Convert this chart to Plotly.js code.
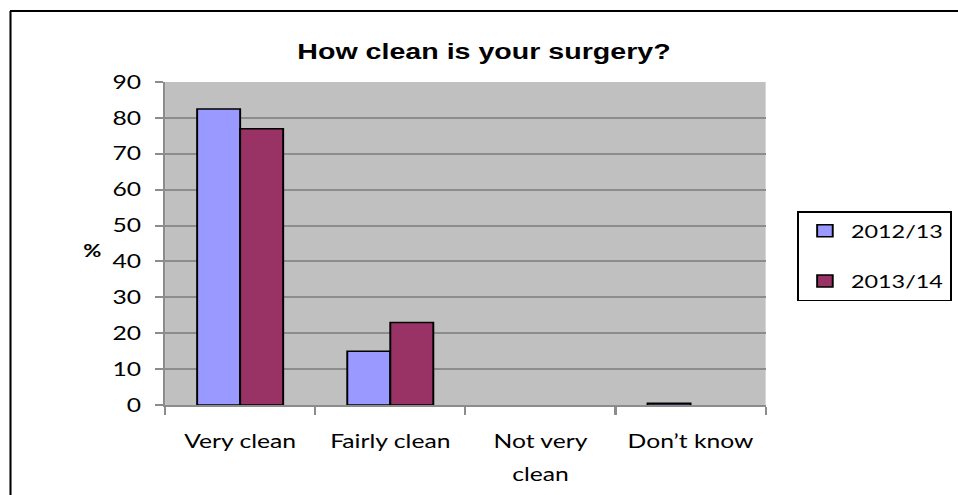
<!DOCTYPE html>
<html>
<head>
<meta charset="utf-8">
<script src="https://cdn.plot.ly/plotly-3.0.1.min.js"></script>
<style>
html,body{margin:0;padding:0;background:#fff;overflow:hidden;}
#wrap{width:958px;height:495px;overflow:hidden;}
#chart{width:737px;height:495px;transform:scaleX(1.29986);transform-origin:0 0;}
</style>
</head>
<body>
<div id="wrap"><div id="chart"></div></div>
<script>
const categories = ["Very clean", "Fairly clean", "Not very clean", "Don\u2019t know"];
const tickLabels = ["Very clean", "Fairly clean", "Not very", "Don\u2019t know"];
const series2012 = [82.5, 15, 0, 0.5];
const series2013 = [77, 23, 0, 0];
const seriesNames = ["2012/13", "2013/14"];
const yTicks = [0, 10, 20, 30, 40, 50, 60, 70, 80, 90];

const S = 958 / 737;
const tickFont = {family: "Lato, 'Open Sans', sans-serif", size: 19, color: "#000"};
const outline = vals => vals.map(v => (v > 0 ? 1.5 : 0));

const traces = [
  {type: "bar", x: categories, y: series2012, name: seriesNames[0], legendgroup: "a",
   marker: {color: "#9999FF", line: {color: "#000", width: outline(series2012)}}},
  {type: "bar", x: categories, y: series2013, name: seriesNames[1], legendgroup: "b",
   marker: {color: "#993366", line: {color: "#000", width: outline(series2013)}}}
];

const L = 127, T = 82, W = 462, H = 323;
const px = v => (v / S - L) / W;   // v: target pixel x
const py = v => (T + H - v) / H;

const layout = {
  width: 737, height: 495,
  margin: {l: L, r: 737 - L - W, t: T, b: 495 - T - H, autoexpand: false},
  paper_bgcolor: "#fff", plot_bgcolor: "#C0C0C0",
  barmode: "group", bargap: 0.427, bargroupgap: 0,
  showlegend: true,
  title: {text: "<b>How clean is your surgery?</b>", font: {family: "'Liberation Sans', Arial, sans-serif", size: 22, color: "#000"},
          x: px(484), xref: "paper", xanchor: "center", y: 1 - 51/495, yref: "container", yanchor: "middle"},
  xaxis: {type: "category", tickvals: categories, ticktext: tickLabels, tickfont: tickFont,
          showline: true, linecolor: "#8c8c8c", linewidth: 2, ticks: "outside", tickson: "boundaries",
          ticklen: 8, tickcolor: "#8c8c8c", tickwidth: 1.6, showgrid: false, fixedrange: true,
          ticklabelstandoff: 18},
  yaxis: {range: [0, 90], tickvals: yTicks, tickfont: tickFont, showline: true, linecolor: "#8c8c8c", linewidth: 1.6,
          ticks: "outside", ticklen: 6, tickcolor: "#8c8c8c", tickwidth: 2, showgrid: true, gridcolor: "#8c8c8c", gridwidth: 2,
          zeroline: false, ticklabelstandoff: 7},
  legend: {x: px(797), y: py(211), xanchor: "left", yanchor: "top", bgcolor: "#fff", bordercolor: "#000", borderwidth: 1.5,
           font: {family: tickFont.family, size: 18, color: "#000"}, traceorder: "grouped", tracegroupgap: 24, itemwidth: 30},
  annotations: [
    {text: "<b>%</b>", xref: "paper", yref: "paper", x: px(92), y: py(250), xanchor: "center", yanchor: "middle",
     showarrow: false, font: {family: "Lato, 'Open Sans', sans-serif", size: 17, color: "#000"}},
    {text: "clean", xref: "x", yref: "paper", x: categories[2], y: py(473), xanchor: "center", yanchor: "middle",
     showarrow: false, font: tickFont}
  ],
  shapes: [
    {type: "line", xref: "paper", yref: "paper", x0: px(10), x1: px(958), y0: py(11), y1: py(11), line: {color: "#000", width: 2}},
    {type: "line", xref: "paper", yref: "paper", x0: px(10.5), x1: px(10.5), y0: py(11), y1: py(497), line: {color: "#000", width: 1.6}}
  ]
};

Plotly.newPlot("chart", traces, layout, {displayModeBar: false, staticPlot: true});
</script>
</body>
</html>
